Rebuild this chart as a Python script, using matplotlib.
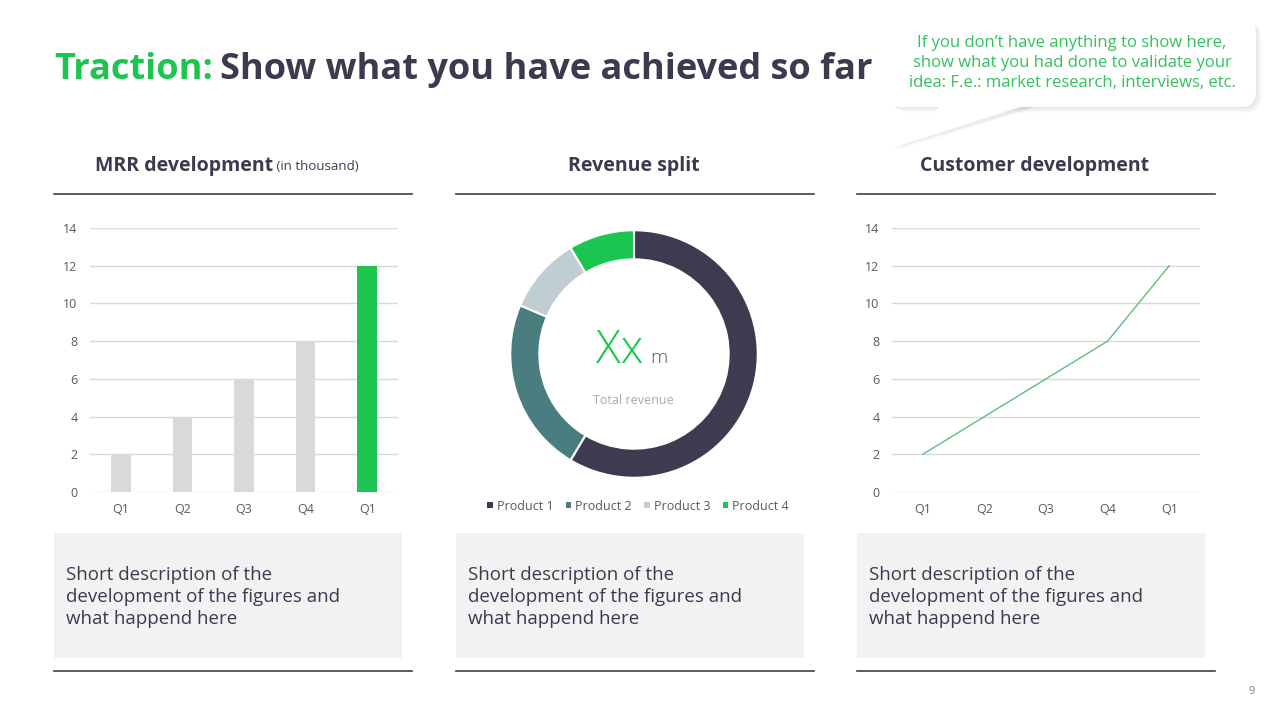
import matplotlib.pyplot as plt
from matplotlib.patches import FancyBboxPatch, Polygon, Rectangle

plt.rcParams['font.family'] = ['Open Sans', 'DejaVu Sans']

# data
quarters = ['Q1', 'Q2', 'Q3', 'Q4', 'Q1']
mrr = [2, 4, 6, 8, 12]
customers = [2, 4, 6, 8, 12]
y_ticks = [0, 2, 4, 6, 8, 10, 12, 14]
products = ['Product 1', 'Product 2', 'Product 3', 'Product 4']
revenue = [8.2, 3.2, 1.4, 1.2]

GREEN = '#1BC54F'
DARK = '#3C3A4E'
GRAY_BAR = '#D9D9D9'
TICK = '#595959'
prod_colors = ['#3E3B50', '#497D80', '#C0CDD2', GREEN]

W, H = 1280, 720
fig = plt.figure(figsize=(12.8, 7.2), dpi=100)


def box(l, t, r, b):
    # pixel box -> figure fraction rect
    return [l / W, 1 - b / H, (r - l) / W, (b - t) / H]


bg = fig.add_axes([0, 0, 1, 1], zorder=0)
bg.set_xlim(0, W)
bg.set_ylim(H, 0)
bg.axis('off')

# title
t1 = bg.text(54, 79, 'Traction:', color=GREEN, fontsize=26, fontweight='bold', va='baseline')
bg.annotate('Show what you have achieved so far', xy=(1, 0), xycoords=t1, va='bottom',
            xytext=(5, 0), textcoords='offset points',
            color=DARK, fontsize=26, fontweight='bold')

# callout bubble (soft shadow, then white shape)
for i in range(4):
    off = 1 + i * 1.5
    bg.add_patch(FancyBboxPatch((888 + off, 18 + off), 368, 89, boxstyle='round,pad=0,rounding_size=15',
                                fc='#000000', ec='none', alpha=0.025, zorder=5))
    bg.add_patch(Polygon([(948 + off, 104), (892 + off * 0.5, 148 + off * 0.5), (1042 + off, 104)],
                         fc='#000000', ec='none', alpha=0.02, zorder=5))
bg.add_patch(FancyBboxPatch((888, 18), 368, 89, boxstyle='round,pad=0,rounding_size=15',
                            fc='white', ec='none', zorder=6))
bg.add_patch(Polygon([(948, 100), (892, 148), (1042, 100)], fc='white', ec='none', zorder=6))
bg.text(1072, 63, 'If you don\u2019t have anything to show here,\nshow what you had done to validate your\n'
        'idea: F.e.: market research, interviews, etc.', color='#35BF5E', fontsize=12,
        ha='center', va='center', linespacing=1.3, zorder=7)

# panel headers and rules
h1 = bg.text(95, 166, 'MRR development', color=DARK, fontsize=14, fontweight='bold', va='center')
bg.annotate(' (in thousand)', xy=(1, 0.45), xycoords=h1, va='center', color=DARK, fontsize=9.5)
bg.text(634, 166, 'Revenue split', color=DARK, fontsize=14, fontweight='bold', ha='center', va='center')
bg.text(1035, 166, 'Customer development', color=DARK, fontsize=14, fontweight='bold',
        ha='center', va='center')

panels = [(54, 412), (456, 814), (857, 1215)]
desc = 'Short description of the\ndevelopment of the figures and\nwhat happend here'
for (l, r) in panels:
    bg.plot([l, r], [194, 194], color='#404040', lw=1.2)
    bg.plot([l, r], [671, 671], color='#404040', lw=1.2)
    bg.add_patch(Rectangle((l, 533), 348, 125, fc='#F2F2F2', ec='none'))
    bg.text(l + 12, 597, desc, color=DARK, fontsize=13.5, va='center', linespacing=1.3)

bg.text(1252, 691, '9', color='#7F7F7F', fontsize=8, ha='center', va='center')


def style_axis(ax):
    ax.set_xlim(-0.5, 4.5)
    ax.set_ylim(0, 14)
    ax.set_yticks(y_ticks)
    ax.set_xticks(range(len(quarters)))
    ax.set_xticklabels(quarters)
    ax.grid(axis='y', color='#D9D9D9', lw=1)
    ax.set_axisbelow(True)
    for s in ax.spines.values():
        s.set_visible(False)
    ax.tick_params(axis='y', length=0, labelsize=9, labelcolor=TICK, pad=9)
    ax.tick_params(axis='x', length=0, labelsize=9, labelcolor=TICK, pad=8)
    ax.patch.set_alpha(0)


# MRR bars
ax1 = fig.add_axes(box(90, 228, 398, 492), zorder=2)
ax1.bar(range(len(mrr)), mrr, width=0.32, color=[GRAY_BAR] * 4 + [GREEN])
style_axis(ax1)

# customer line
ax3 = fig.add_axes(box(892, 228, 1200, 492), zorder=2)
ax3.plot(range(len(customers)), customers, color='#5CBF7B', lw=1)
style_axis(ax3)

# revenue donut
ax2 = fig.add_axes(box(509, 229, 759, 479), zorder=2)
ax2.pie(revenue, colors=prod_colors, startangle=90, counterclock=False, radius=1,
        wedgeprops=dict(width=0.235, edgecolor='white', linewidth=1.5))
ax2.set_xlim(-1.01, 1.01)
ax2.set_ylim(-1.01, 1.01)
ax2.set_aspect('equal')
ax2.axis('off')

bg.text(620, 363, 'Xx', color=GREEN, fontsize=33, fontweight='light', ha='center', va='baseline')
bg.text(650, 363, 'm', color=TICK, fontsize=14, fontweight='light', va='baseline')
bg.text(633, 400, 'Total revenue', color='#AAAAAA', fontsize=9, ha='center', va='center')

handles = [Rectangle((0, 0), 1, 1, fc=c, ec='none') for c in prod_colors]
fig.legend(handles, products, loc='center', bbox_to_anchor=(638 / W, 1 - 506 / H), ncol=4,
           frameon=False, fontsize=9, handlelength=0.45, handleheight=0.45, handletextpad=0.3,
           columnspacing=1.0, labelcolor=TICK)

fig.savefig('out.png', dpi=100, facecolor='white')
